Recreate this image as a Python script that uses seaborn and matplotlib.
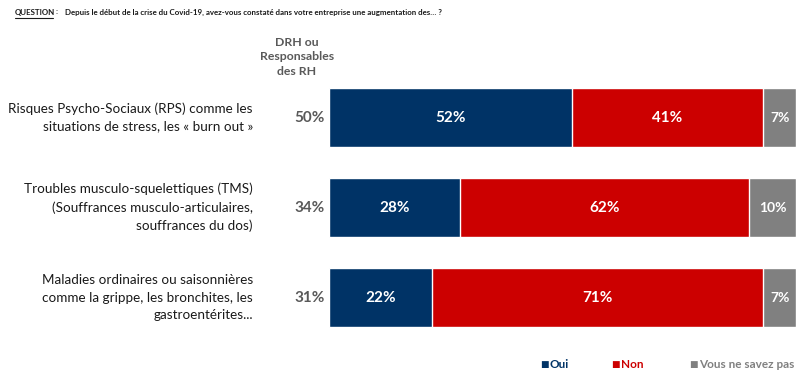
import matplotlib
matplotlib.use("Agg")
import matplotlib.pyplot as plt
import seaborn as sns
import numpy as np
import pandas as pd

categories = [
    "Risques Psycho-Sociaux (RPS) comme les\nsituations de stress, les « burn out »",
    "Troubles musculo-squelettiques (TMS)\n(Souffrances musculo-articulaires,\nsouffrances du dos)",
    "Maladies ordinaires ou saisonnières\ncomme la grippe, les bronchites, les\ngastroentérites...",
]
drh = ["50%", "34%", "31%"]
oui = [52, 28, 22]
non = [41, 62, 71]
nsp = [7, 10, 7]
series_names = ["Oui", "Non", "Vous ne savez pas"]
colors = ["#003366", "#CC0000", "#808080"]

sns.set_theme(style="white")
plt.rcParams['font.family'] = ['Lato', 'DejaVu Sans']

fig = plt.figure(figsize=(8.05, 3.75), dpi=100)
ax = fig.add_axes([329 / 805, 1 - 342.5 / 375, 467 / 805, 270 / 375])

df = pd.DataFrame({"cat": categories, "Oui": oui, "Non": non, "NSP": nsp})
df["c1"] = df["Oui"]
df["c2"] = df["Oui"] + df["Non"]
df["c3"] = df["c2"] + df["NSP"]

for col, color in zip(["c3", "c2", "c1"], colors[::-1]):
    sns.barplot(data=df, x=col, y="cat", color=color, orient="h", ax=ax,
                width=0.655, edgecolor="white", linewidth=1, saturation=1)

ax.set_xlim(0, 100)
ax.set_ylim(2.5, -0.5)
ax.set_xlabel("")
ax.set_ylabel("")
ax.set_xticks([])
ax.set_yticks([])
for s in ax.spines.values():
    s.set_visible(False)

# segment labels
for i in range(len(categories)):
    starts = [0, oui[i], oui[i] + non[i]]
    vals = [oui[i], non[i], nsp[i]]
    for st, v in zip(starts, vals):
        fs = 11 if v >= 15 else 10
        ax.text(st + v / 2, i, f"{v}%", ha="center", va="center", color="white",
                fontsize=fs, fontweight="bold")
    # DRH column
    ax.text(-0.9, i, drh[i], ha="right", va="center", color="#595959",
            fontsize=11, fontweight="bold", clip_on=False)
    ax.text(-16.3, i, categories[i], ha="right", va="center", color="#1a1a1a",
            fontsize=9.7, linespacing=1.55, clip_on=False)

# header for DRH column
fig.text(297 / 805, 1 - 57 / 375, "DRH ou\nResponsables\ndes RH", ha="center", va="center",
         color="#595959", fontsize=8.8, fontweight="bold", linespacing=1.35)

# title
fig.text(15 / 805, 1 - 12 / 375, "QUESTION", ha="left", va="center",
         color="#1a1a1a", fontsize=5.7, fontweight="bold")
fig.add_artist(plt.Line2D([15 / 805, 53 / 805], [1 - 17.5 / 375, 1 - 17.5 / 375],
                          color="#1a1a1a", linewidth=0.8))
fig.text(56 / 805, 1 - 12 / 375, ":", ha="left", va="center",
         color="#1a1a1a", fontsize=5.7, fontweight="bold")
fig.text(65 / 805, 1 - 12 / 375,
         "Depuis le début de la crise du Covid-19, avez-vous constaté dans votre entreprise une augmentation des… ?",
         ha="left", va="center", color="#1a1a1a", fontsize=5.7, fontweight="bold")

# legend
leg_x = [540, 611, 689]
for x, name, c in zip(leg_x, series_names, colors):
    fig.text(x / 805, 1 - 364 / 375, "■", ha="left", va="center", color=c,
             fontsize=6.5, family=['DejaVu Sans'])
    fig.text((x + 10) / 805, 1 - 364 / 375, name, ha="left", va="center", color=c,
             fontsize=8.5, fontweight="bold")

fig.savefig("out.png", dpi=100, facecolor="white")
